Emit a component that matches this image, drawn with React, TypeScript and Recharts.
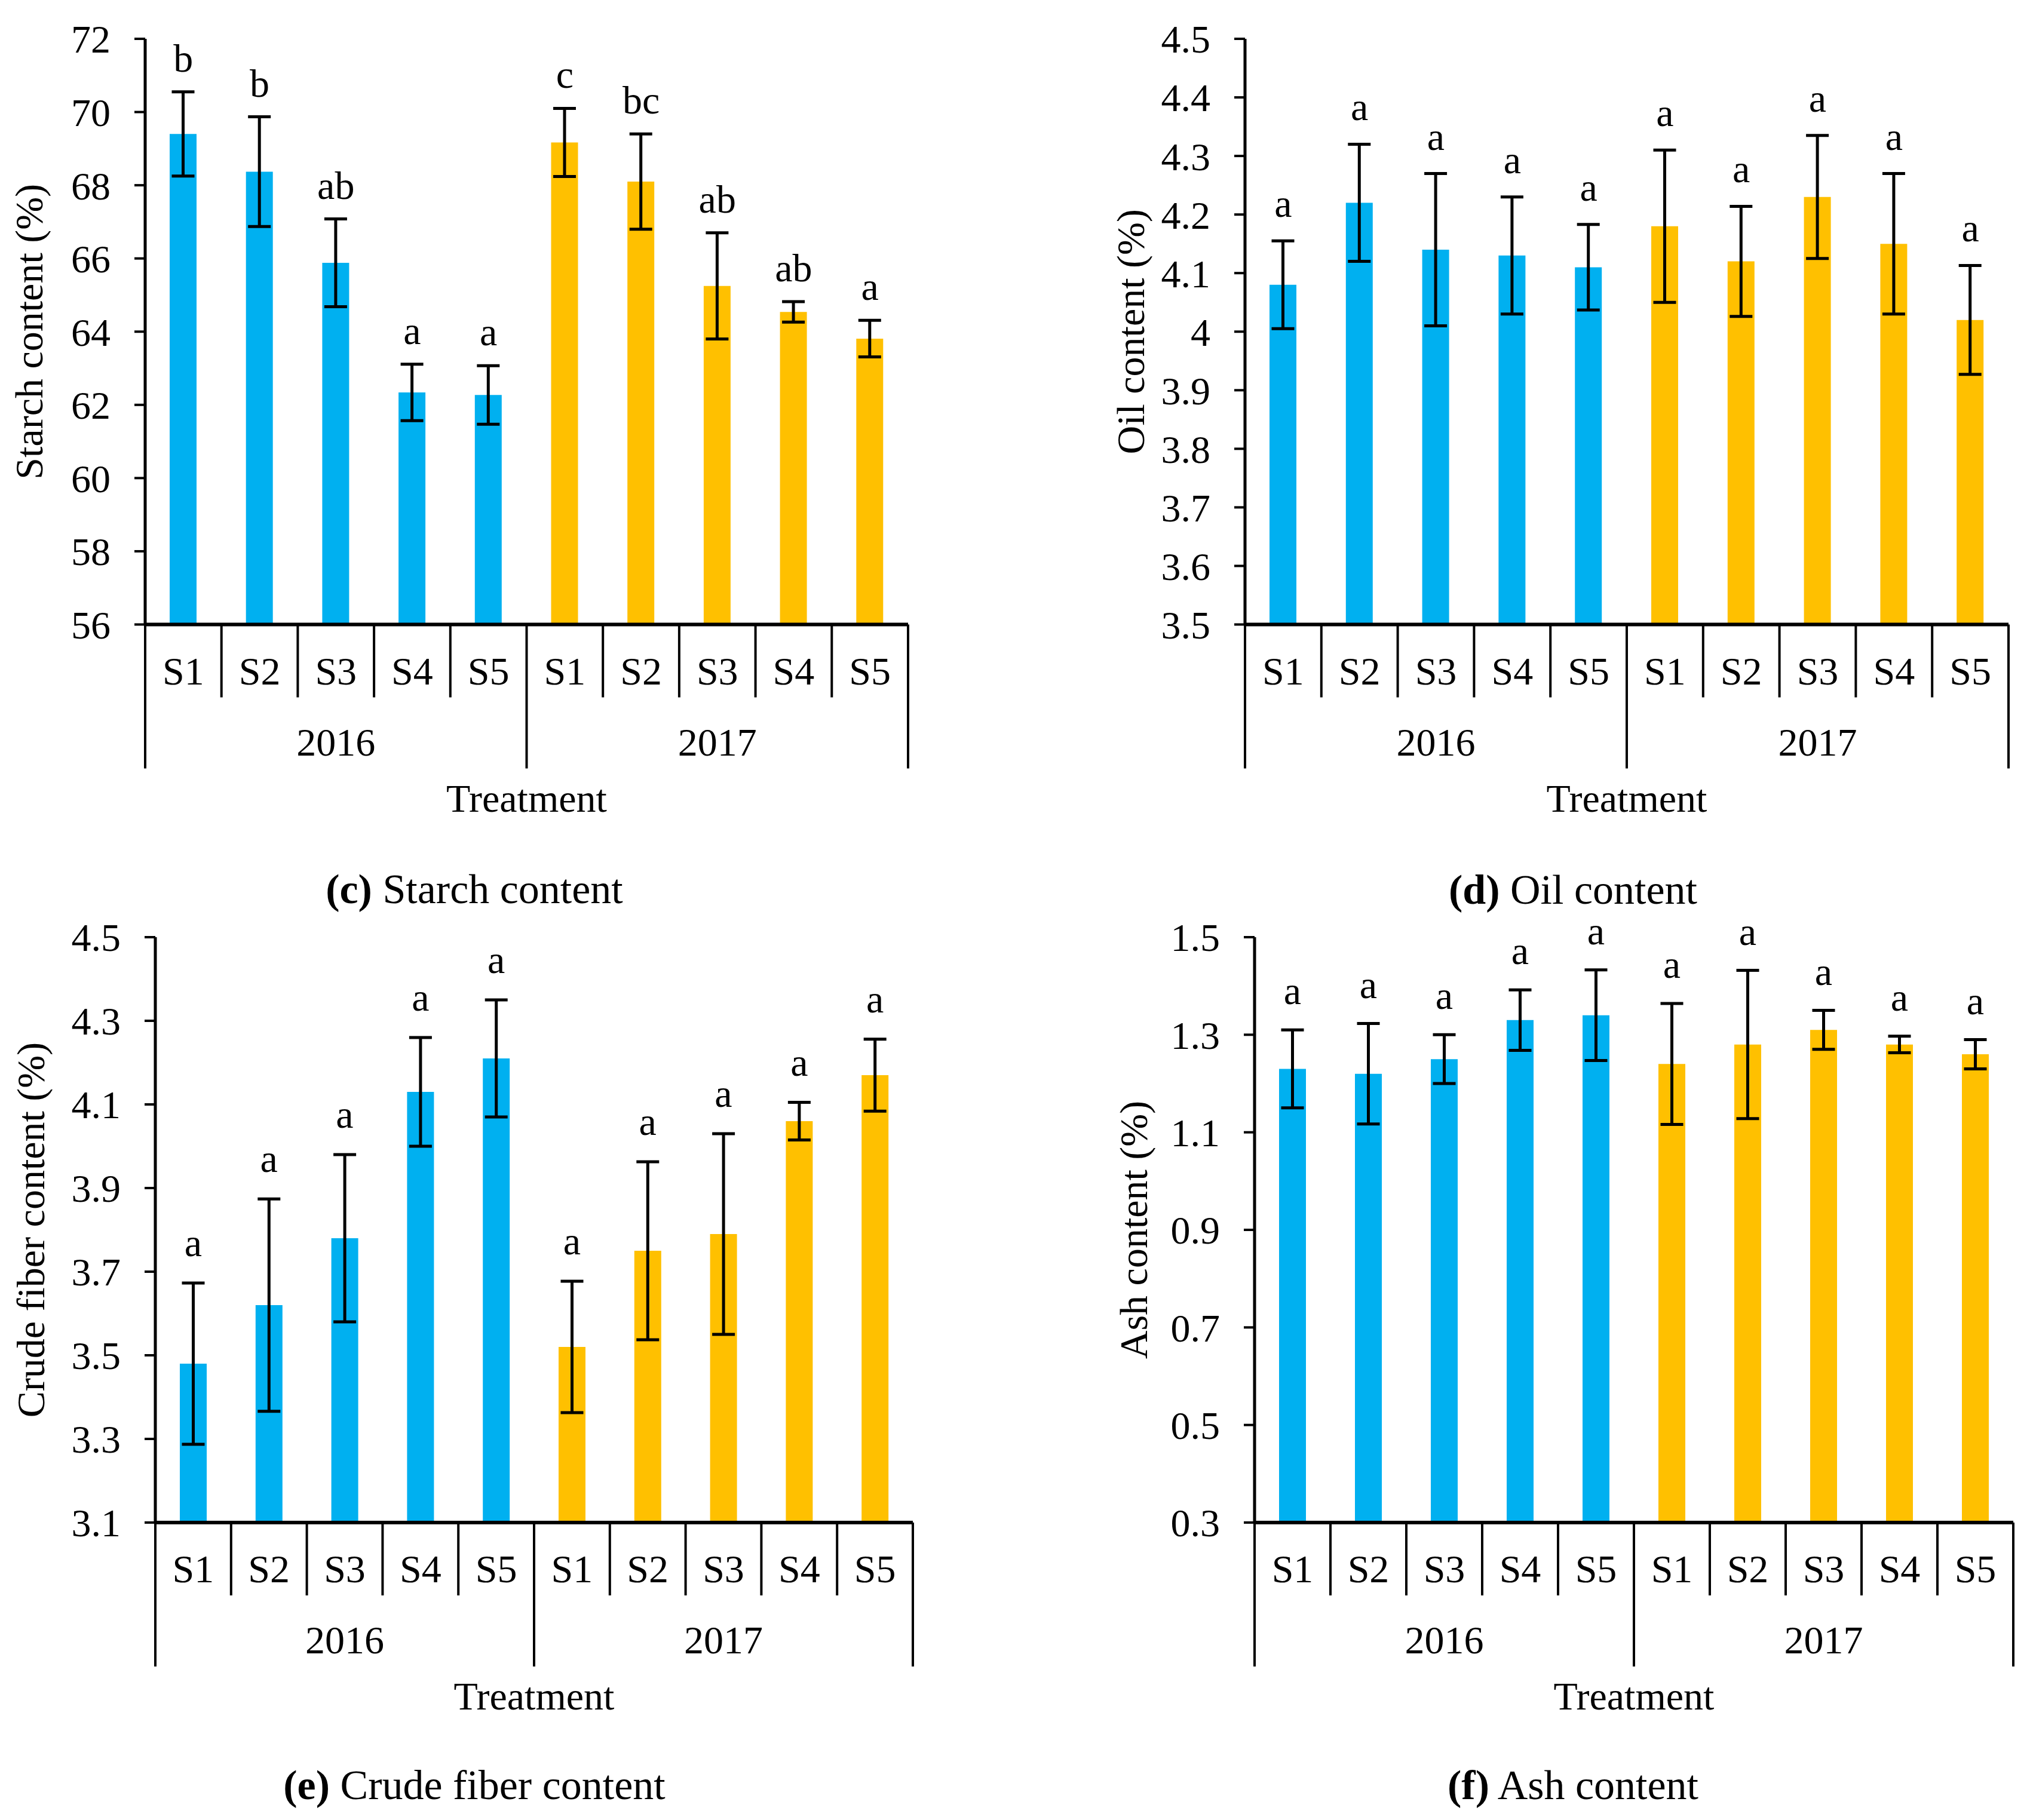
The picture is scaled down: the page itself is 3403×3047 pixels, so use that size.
import React from 'react'
import { ComposedChart, Bar, Cell, ErrorBar, Line, LabelList, XAxis, YAxis } from 'recharts'

const FONT = '"Liberation Serif", "Times New Roman", serif'
const BLUE = '#00B0F0'
const GOLD = '#FFC000'

const treatments = ['S1', 'S2', 'S3', 'S4', 'S5']
const years = ['2016', '2017']

const starchMean = [69.4, 68.37, 65.88, 62.34, 62.27, 69.17, 68.1, 65.25, 64.54, 63.81]
const starchErr = [1.15, 1.5, 1.2, 0.77, 0.8, 0.93, 1.3, 1.45, 0.28, 0.5]
const starchLetters = ['b', 'b', 'ab', 'a', 'a', 'c', 'bc', 'ab', 'ab', 'a']
const starchTicks = [56, 58, 60, 62, 64, 66, 68, 70, 72]

const oilMean = [4.08, 4.22, 4.14, 4.13, 4.11, 4.18, 4.12, 4.23, 4.15, 4.02]
const oilErr = [0.075, 0.1, 0.13, 0.1, 0.073, 0.13, 0.094, 0.105, 0.12, 0.093]
const oilLetters = ['a', 'a', 'a', 'a', 'a', 'a', 'a', 'a', 'a', 'a']
const oilTicks = [3.5, 3.6, 3.7, 3.8, 3.9, 4, 4.1, 4.2, 4.3, 4.4, 4.5]

const fiberMean = [3.48, 3.62, 3.78, 4.13, 4.21, 3.52, 3.75, 3.79, 4.06, 4.17]
const fiberErr = [0.193, 0.254, 0.2, 0.13, 0.14, 0.157, 0.213, 0.24, 0.045, 0.086]
const fiberLetters = ['a', 'a', 'a', 'a', 'a', 'a', 'a', 'a', 'a', 'a']
const fiberTicks = [3.1, 3.3, 3.5, 3.7, 3.9, 4.1, 4.3, 4.5]

const ashMean = [1.23, 1.22, 1.25, 1.33, 1.34, 1.24, 1.28, 1.31, 1.28, 1.26]
const ashErr = [0.08, 0.103, 0.05, 0.062, 0.093, 0.124, 0.152, 0.04, 0.017, 0.03]
const ashLetters = ['a', 'a', 'a', 'a', 'a', 'a', 'a', 'a', 'a', 'a']
const ashTicks = [0.3, 0.5, 0.7, 0.9, 1.1, 1.3, 1.5]

const YW = 300
const MT = 80
const XH = 340
const MR = 20
const MB = 10

interface PanelProps {
  means: number[]
  errs: number[]
  letters: string[]
  ticks: number[]
  axisX: number
  plotTop: number
  plotW: number
  plotH: number
  yTitle: string
  titleGap: number
  letterGap: number
  tag: string
  caption: string
  captionX: number
  captionY: number
}

function Panel(p: PanelProps) {
  const data = p.means.map((v, i) => ({
    key: `${years[Math.floor(i / 5)]}-${treatments[i % 5]}`,
    treatment: treatments[i % 5],
    year: years[Math.floor(i / 5)],
    value: v,
    err: p.errs[i],
    top: v + p.errs[i],
    letter: p.letters[i],
  }))
  const band = p.plotW / data.length
  const width = YW + p.plotW + MR
  const height = MT + p.plotH + XH + MB

  const XTick = (props: any) => {
    const { x, y, index } = props
    const d = data[index]
    if (!d) return null
    const groupEnd = index % 5 === 4
    return (
      <g>
        <text x={x} y={y + 100} textAnchor="middle" fontSize={66} fontFamily={FONT} fill="#000">
          {d.treatment}
        </text>
        {index === 0 && (
          <line x1={x - band / 2} x2={x - band / 2} y1={y} y2={y + 241} stroke="#000" strokeWidth={4} />
        )}
        <line
          x1={x + band / 2}
          x2={x + band / 2}
          y1={y}
          y2={y + (groupEnd ? 241 : 122)}
          stroke="#000"
          strokeWidth={4}
        />
        {index % 5 === 2 && (
          <text x={x} y={y + 219} textAnchor="middle" fontSize={66} fontFamily={FONT} fill="#000">
            {d.year}
          </text>
        )}
      </g>
    )
  }

  const cx = YW - p.titleGap
  const cy = MT + p.plotH / 2
  const yTitle = () => (
    <text
      x={cx}
      y={cy}
      transform={`rotate(-90, ${cx}, ${cy})`}
      textAnchor="middle"
      dominantBaseline="central"
      fontSize={66}
      fontFamily={FONT}
      fill="#000"
    >
      {p.yTitle}
    </text>
  )

  return (
    <>
      <div style={{ position: 'absolute', left: p.axisX - YW, top: p.plotTop - MT }}>
        <ComposedChart width={width} height={height} data={data} margin={{ top: MT, right: MR, left: 0, bottom: MB }}>
          <XAxis
            dataKey="key"
            type="category"
            interval={0}
            height={XH}
            tickLine={false}
            tickSize={0}
            tickMargin={0}
            axisLine={{ stroke: '#000', strokeWidth: 6 }}
            tick={XTick}
            label={{ value: 'Treatment', position: 'insideBottom', offset: 27, fill: '#000', fontSize: 66, fontFamily: FONT }}
          />
          <YAxis
            type="number"
            width={YW}
            domain={[p.ticks[0], p.ticks[p.ticks.length - 1]]}
            ticks={p.ticks}
            interval={0}
            allowDataOverflow
            tickSize={18}
            tickMargin={40}
            axisLine={{ stroke: '#000', strokeWidth: 5 }}
            tickLine={{ stroke: '#000', strokeWidth: 4 }}
            tick={{ fill: '#000', fontSize: 66, fontFamily: FONT }}
            label={yTitle}
          />
          <Bar dataKey="value" barSize={45} isAnimationActive={false}>
            {data.map((d) => (
              <Cell key={d.key} fill={d.year === '2016' ? BLUE : GOLD} />
            ))}
            <ErrorBar dataKey="err" width={19} strokeWidth={5} stroke="#000" direction="y" isAnimationActive={false} />
          </Bar>
          <Line
            dataKey="top"
            stroke="none"
            dot={false}
            activeDot={false}
            legendType="none"
            isAnimationActive={false}
          >
            <LabelList dataKey="letter" position="top" offset={p.letterGap} fill="#000" fontSize={66} fontFamily={FONT} />
          </Line>
        </ComposedChart>
      </div>
      <div
        style={{
          position: 'absolute',
          left: p.captionX - 700,
          top: p.captionY - 42,
          width: 1400,
          textAlign: 'center',
          fontSize: 70,
          lineHeight: '82px',
          fontFamily: FONT,
          color: '#000',
        }}
      >
        <b>{p.tag}</b> {p.caption}
      </div>
    </>
  )
}

export default function App() {
  return (
    <div style={{ position: 'absolute', left: 0, top: 0, width: 3403, height: 3047, background: '#fff', fontFamily: FONT, overflow: 'hidden' }}>
      <Panel
        means={starchMean}
        errs={starchErr}
        letters={starchLetters}
        ticks={starchTicks}
        axisX={243}
        plotTop={64.5}
        plotW={1277}
        plotH={980.5}
        yTitle="Starch content (%)"
        titleGap={195}
        letterGap={34}
        tag="(c)"
        caption="Starch content"
        captionX={794}
        captionY={1490}
      />
      <Panel
        means={oilMean}
        errs={oilErr}
        letters={oilLetters}
        ticks={oilTicks}
        axisX={2084}
        plotTop={64.5}
        plotW={1278}
        plotH={980.5}
        yTitle="Oil content (%)"
        titleGap={192}
        letterGap={40}
        tag="(d)"
        caption="Oil content"
        captionX={2633}
        captionY={1491}
      />
      <Panel
        means={fiberMean}
        errs={fiberErr}
        letters={fiberLetters}
        ticks={fiberTicks}
        axisX={260}
        plotTop={1568.7}
        plotW={1268}
        plotH={980}
        yTitle="Crude fiber content (%)"
        titleGap={209}
        letterGap={45}
        tag="(e)"
        caption="Crude fiber content"
        captionX={794}
        captionY={2990}
      />
      <Panel
        means={ashMean}
        errs={ashErr}
        letters={ashLetters}
        ticks={ashTicks}
        axisX={2100}
        plotTop={1568.7}
        plotW={1270}
        plotH={980}
        yTitle="Ash content (%)"
        titleGap={203}
        letterGap={43}
        tag="(f)"
        caption="Ash content"
        captionX={2633}
        captionY={2990}
      />
    </div>
  )
}
